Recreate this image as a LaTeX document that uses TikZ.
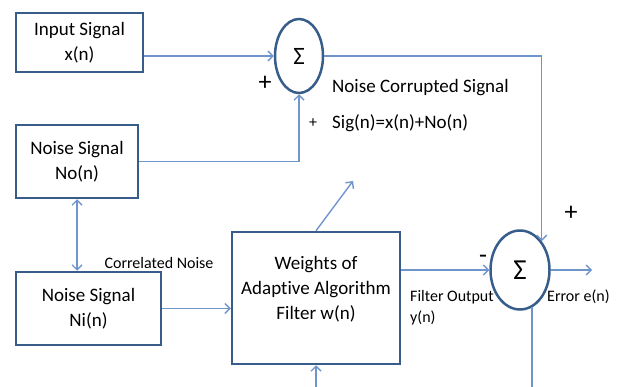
\documentclass[tikz,border=0pt]{standalone}
\usepackage{fontspec}
\setmainfont[Ligatures={NoCommon,NoContextual},Contextuals=NoAlternate]{Carlito}
\usetikzlibrary{arrows.meta,shapes.geometric}
\definecolor{boxblue}{RGB}{56,93,138}
\definecolor{lineblue}{RGB}{110,150,205}

\begin{document}
\begin{tikzpicture}[x=1pt,y=-1pt]
    \tikzstyle{block_style} = [draw=boxblue, line width=2.5pt, align=center, inner sep=0pt, font=\fontsize{19}{25}\selectfont]
    \tikzstyle{sum_style} = [draw=boxblue, line width=2.5pt, ellipse, inner sep=0pt]
    \tikzstyle{wire_style} = [lineblue, line width=1.4pt]
    \tikzstyle{arrow_style} = [-{Straight Barb[length=5pt,width=10pt]}, lineblue, line width=1.4pt]
    \tikzstyle{dbl_arrow_style} = [{Straight Barb[length=5pt,width=10pt]}-{Straight Barb[length=5pt,width=10pt]}, lineblue, line width=1.4pt]
    \tikzstyle{text_style} = [inner sep=0pt, anchor=west, font=\fontsize{19}{25}\selectfont]
    \tikzstyle{small_style} = [inner sep=0pt, anchor=west, font=\fontsize{16}{21}\selectfont]
    \tikzstyle{sign_style} = [inner sep=0pt, font=\fontsize{26}{26}\selectfont]

    \useasboundingbox (0,0) rectangle (620,387);

    % blocks
    \node[block_style, minimum width=127pt, minimum height=59pt] (input) at (79.5,42.5) {Input Signal\\x(n)};
    \node[block_style, minimum width=122pt, minimum height=73pt] (noise_o) at (77,161.5) {Noise Signal\\No(n)};
    \node[block_style, minimum width=145pt, minimum height=73pt] (noise_i) at (88.5,308.5) {Noise Signal\\Ni(n)};
    \node[block_style, minimum width=168pt, minimum height=132pt] (weights) at (316,298) {};
    \node[block_style, draw=none] (weights_text) at (316,289) {Weights of\\Adapt\kern0pt ive Algorithm\\Filter w(n)};

    % summing points
    \node[sum_style, minimum width=48pt, minimum height=74pt, font=\fontsize{25}{25}\selectfont] (sum1) at (299,56) {Σ};
    \node[sum_style, minimum width=59pt, minimum height=79pt, font=\fontsize{29}{29}\selectfont] (sum2) at (520,270) {Σ};

    % free ends
    \coordinate (err_end) at (592,270);
    \coordinate (fb_end) at (532,387);
    \coordinate (adapt_in) at (316,387);
    \coordinate (step_tip) at (353,181);

    % connections
    \draw[arrow_style] (input.east |- sum1) -- (sum1.west);
    \draw[arrow_style] (noise_o.east) -| (sum1.south);
    \draw[arrow_style] (sum1.east) -| (sum2.north east);
    \draw[dbl_arrow_style] (noise_o.south) -- (noise_i.north -| noise_o.south);
    \draw[arrow_style] (noise_i.east) -- (weights.west |- noise_i.east);
    \draw[arrow_style] (weights.east |- sum2) -- (sum2.west);
    \draw[arrow_style] (sum2.east) -- (err_end);
    \draw[wire_style] (sum2.-72) -- (sum2.-72 |- fb_end);
    \draw[arrow_style] (adapt_in) -- (weights.south);
    \draw[arrow_style] (weights.north) -- (step_tip);

    % labels
    \node[sign_style] (plus_a) at (265,83) {+};
    \node[small_style, anchor=center] (plus_b) at (313,123) {+};
    \node[text_style] (corrupt_a) at (332,88) {Noise Corrupted Signal};
    \node[text_style] (corrupt_b) at (332,123) {Sig(n)=x(n)+No(n)};
    \node[small_style, anchor=center] (correlated) at (159,263) {Correlated Noise};
    \node[sign_style] (plus_c) at (571,213) {+};
    \node[sign_style] (minus) at (483,259) {-};
    \node[small_style] (filt_a) at (410,297) {Filter Output};
    \node[small_style] (filt_b) at (410,318) {y(n)};
    \node[small_style] (error) at (547,297) {Error e(n)};
\end{tikzpicture}
\end{document}
